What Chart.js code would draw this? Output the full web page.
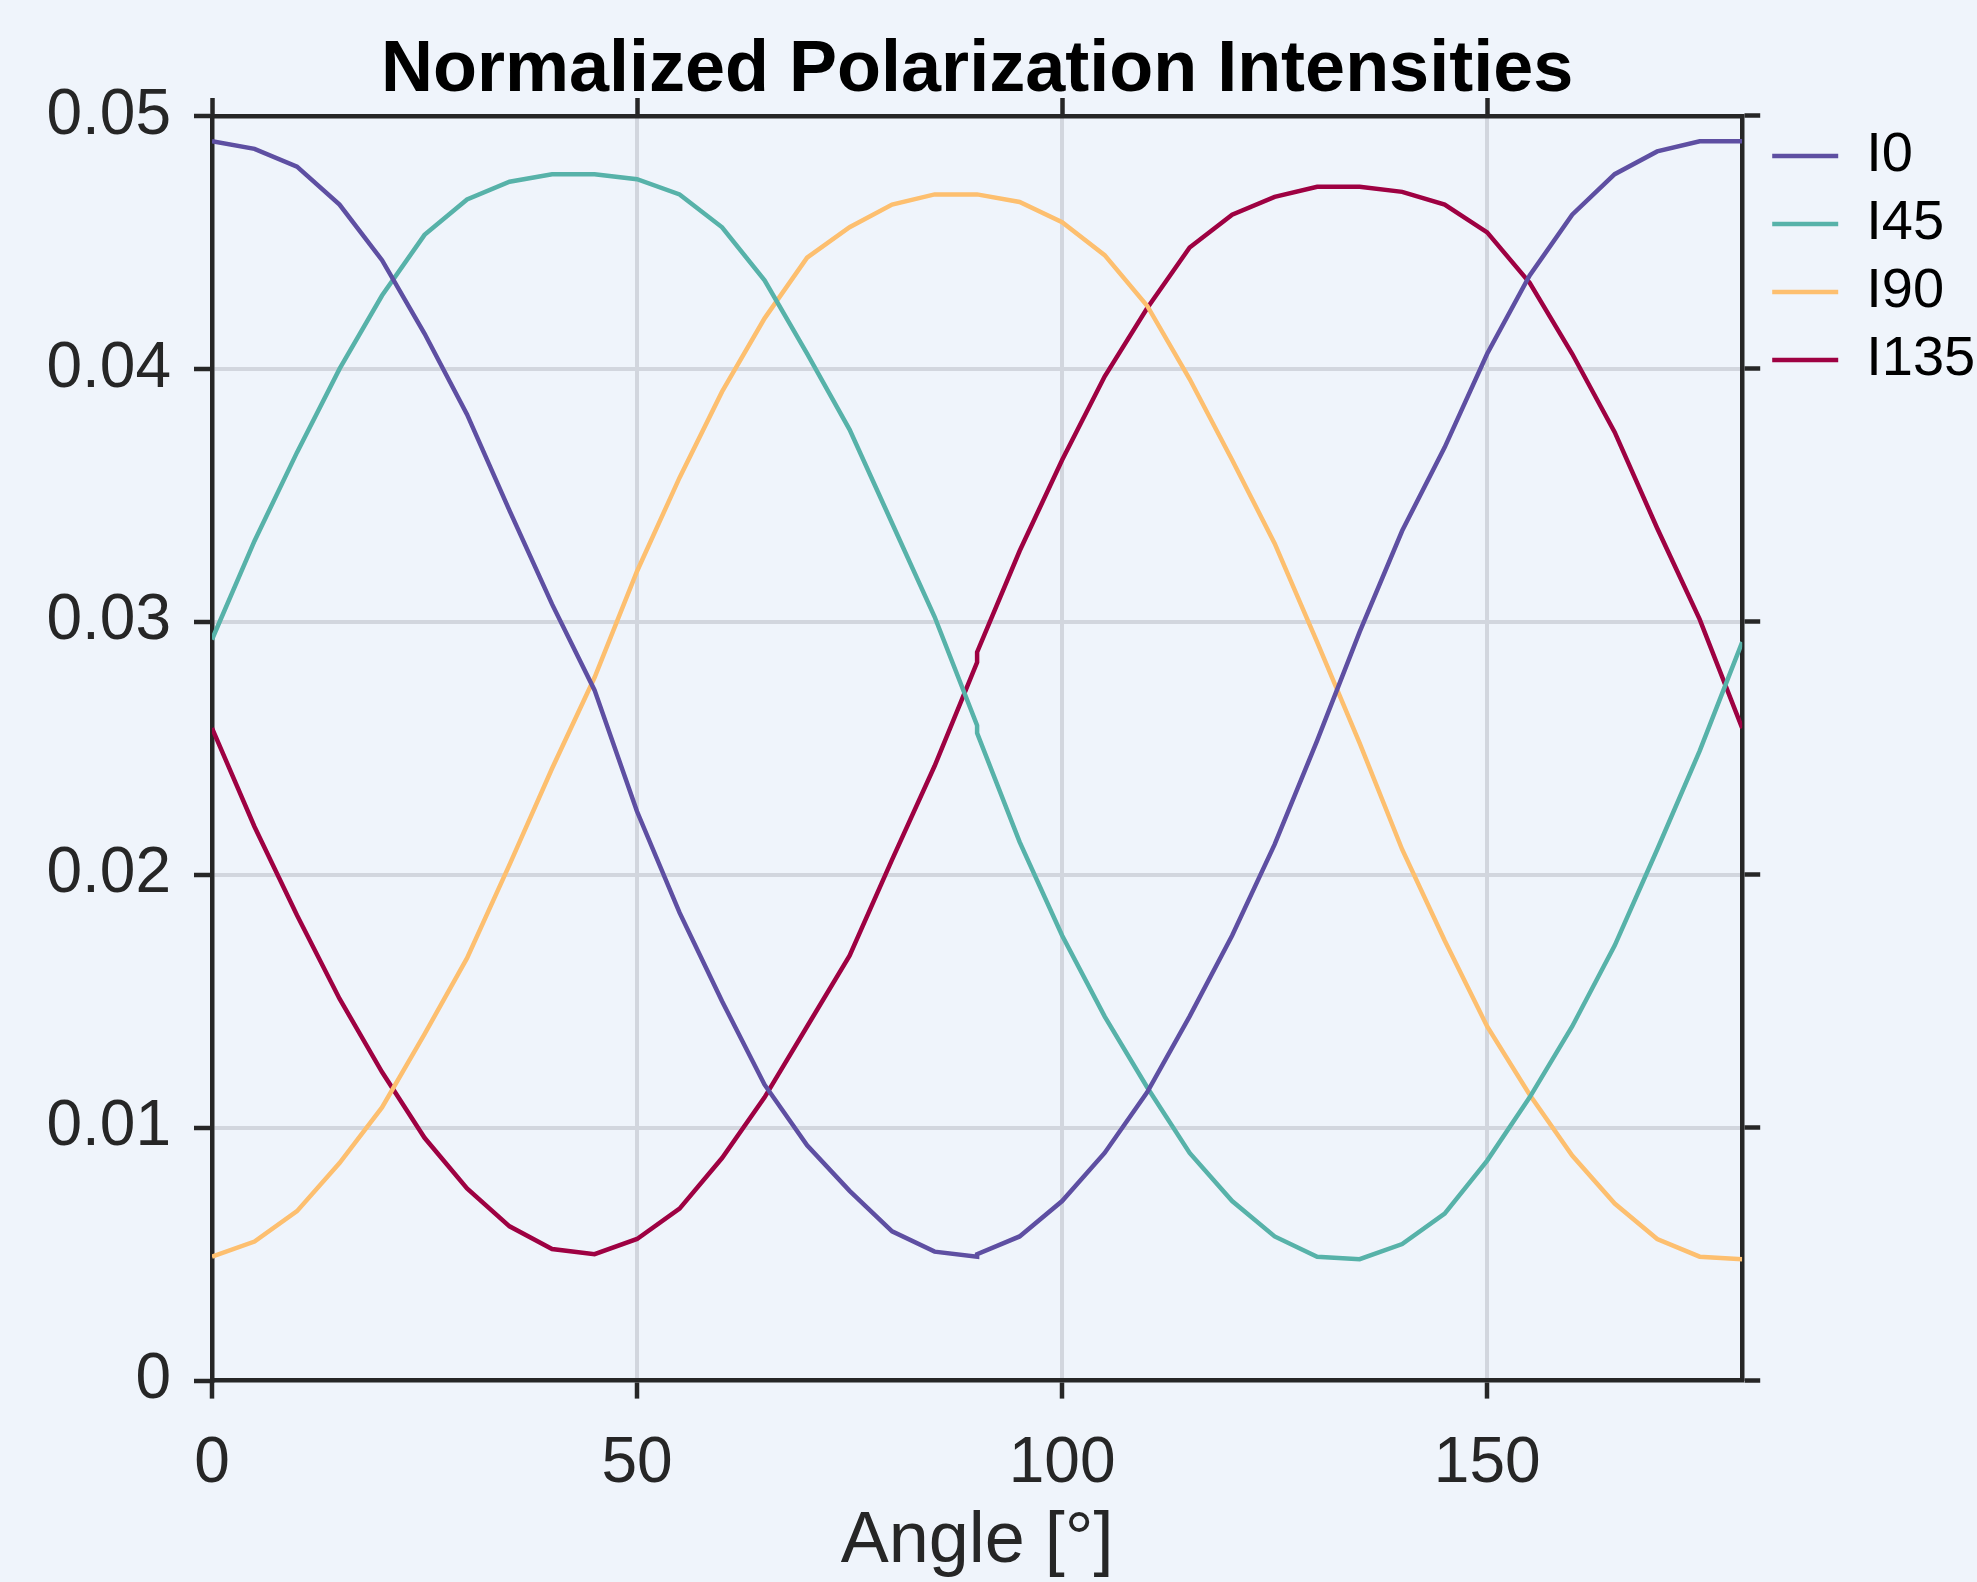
<!DOCTYPE html>
<html>
<head>
<meta charset="utf-8">
<script src="https://cdn.jsdelivr.net/npm/chart.js@4.4.1/dist/chart.umd.min.js"></script>
<style>
html,body{margin:0;padding:0;background:#eff4fb;}
canvas{display:block;background:#eff4fb;}
</style>
</head>
<body>
<canvas id="c" width="1977" height="1582"></canvas>
<script>
// ---- data ----
const angles = [0,5,10,15,20,25,30,35,40,45,50,55,60,65,70,75,80,85,90,
                90,95,100,105,110,115,120,125,130,135,140,145,150,155,160,165,170,175,180];
const I0 = [0.0490,0.0487,0.0480,0.0465,0.0443,0.0414,0.0382,0.0344,0.0307,0.0273,0.0225,0.0185,0.0150,0.0117,0.0093,0.0075,0.0059,0.0051,0.0049,
            0.0050,0.0057,0.0071,0.0090,0.0114,0.0144,0.0176,0.0212,0.0253,0.0296,0.0336,0.0369,0.0406,0.0437,0.0461,0.0477,0.0486,0.0490,0.0490];
const I45 = [0.0293,0.0332,0.0367,0.0400,0.0429,0.0453,0.0467,0.0474,0.0477,0.0477,0.0475,0.0469,0.0456,0.0435,0.0406,0.0376,0.0339,0.0302,0.0259,
             0.0256,0.0213,0.0176,0.0144,0.0116,0.0090,0.0071,0.0057,0.0049,0.0048,0.0054,0.0066,0.0087,0.0112,0.0140,0.0172,0.0210,0.0249,0.0292];
const I90 = [0.0049,0.0055,0.0067,0.0086,0.0108,0.0137,0.0167,0.0204,0.0242,0.0278,0.0320,0.0357,0.0391,0.0420,0.0444,0.0456,0.0465,0.0469,0.0469,
             0.0469,0.0466,0.0458,0.0445,0.0425,0.0396,0.0364,0.0331,0.0292,0.0252,0.0210,0.0174,0.0140,0.0113,0.0089,0.0070,0.0056,0.0049,0.0048];
const I135 = [0.0258,0.0219,0.0184,0.0151,0.0122,0.0096,0.0076,0.0061,0.0052,0.0050,0.0056,0.0068,0.0088,0.0112,0.0140,0.0168,0.0206,0.0243,0.0284,
              0.0288,0.0328,0.0364,0.0397,0.0424,0.0448,0.0461,0.0468,0.0472,0.0472,0.0470,0.0465,0.0454,0.0434,0.0406,0.0375,0.0337,0.0301,0.0258];
const seriesNames = ['I0','I45','I90','I135'];
const seriesValues = [I0, I45, I90, I135];
const seriesColors = ['#5e4fa2','#57b2a9','#fdbf6f','#9e0142'];
const xTickValues = [0,50,100,150];
const yTickValues = [0,0.01,0.02,0.03,0.04,0.05];
const titleText = 'Normalized Polarization Intensities';
const xTitleText = 'Angle [°]';

// ---- styling ----
const FONT = "'Liberation Sans', Arial, Helvetica, sans-serif";
const INK = '#262626';
const GRID = '#d2d6de';
const SPINE_W = 4.5;
const LINE_W = 4.5;
Chart.defaults.font.family = FONT;

const datasets = seriesNames.map((name, i) => ({
  label: name,
  data: angles.map((a, k) => ({x: a, y: seriesValues[i][k]})),
  borderColor: seriesColors[i],
  backgroundColor: seriesColors[i],
  borderWidth: LINE_W,
  pointRadius: 0,
  pointHoverRadius: 0,
  tension: 0,
  fill: false
}));

function gridColorX(ctx) {
  const v = ctx.tick ? ctx.tick.value : null;
  return (v === 0 || v === 180) ? 'rgba(0,0,0,0)' : GRID;
}
function gridColorY(ctx) {
  const v = ctx.tick ? ctx.tick.value : null;
  return (v === 0 || v === 0.05) ? 'rgba(0,0,0,0)' : GRID;
}
const setXTicks = s => { s.ticks = xTickValues.map(v => ({value: v})); };
const setYTicks = s => { s.ticks = yTickValues.map(v => ({value: v})); };

new Chart(document.getElementById('c'), {
  type: 'line',
  data: { datasets },
  options: {
    responsive: false,
    animation: false,
    devicePixelRatio: 1,
    layout: { padding: { left: 0, right: -8.2, top: 0, bottom: 0 } },
    plugins: {
      tooltip: { enabled: false },
      title: {
        display: true,
        text: titleText,
        fullSize: false,
        color: '#000000',
        font: { size: 72, weight: 'bold', lineHeight: 1.2 },
        padding: { top: 27.8, bottom: 0 }
      },
      legend: {
        display: true,
        position: 'right',
        align: 'start',
        fullSize: false,
        labels: {
          boxWidth: 66,
          boxHeight: 4.5,
          padding: 12,
          color: '#000000',
          font: { size: 56 },
          generateLabels: chart => chart.data.datasets.map((d, i) => ({
            text: d.label,
            fillStyle: d.borderColor,
            strokeStyle: d.borderColor,
            lineWidth: 0,
            hidden: false,
            datasetIndex: i,
            fontColor: '#000000'
          }))
        }
      }
    },
    scales: {
      x: {
        type: 'linear',
        position: 'bottom',
        min: 0, max: 180,
        afterBuildTicks: setXTicks,
        afterFit: s => { s.height = 201.4; },
        grid: { color: gridColorX, lineWidth: 4, drawTicks: true, tickLength: 18, tickColor: INK, tickWidth: SPINE_W },
        border: { display: true, color: INK, width: SPINE_W },
        ticks: { color: INK, font: { size: 64 }, padding: 27, maxRotation: 0, callback: v => String(v) },
        title: { display: true, text: xTitleText, color: INK, font: { size: 72, lineHeight: 1.1 }, padding: { top: 0, bottom: 0 } }
      },
      x2: {
        type: 'linear',
        position: 'top',
        min: 0, max: 180,
        afterBuildTicks: setXTicks,
        afterFit: s => { s.height = 1.8; },
        grid: { drawOnChartArea: false, drawTicks: true, tickLength: 18, tickColor: INK, tickWidth: SPINE_W },
        border: { display: true, color: INK, width: SPINE_W },
        ticks: { display: false }
      },
      y: {
        type: 'linear',
        position: 'left',
        min: 0, max: 0.05,
        afterBuildTicks: setYTicks,
        afterFit: s => { s.width = 212; },
        grid: { color: gridColorY, lineWidth: 4, drawTicks: true, tickLength: 18, tickColor: INK, tickWidth: SPINE_W },
        border: { display: true, color: INK, width: SPINE_W },
        ticks: { color: INK, font: { size: 64 }, padding: 23, callback: v => String(Number(v.toFixed(2))) }
      },
      y2: {
        type: 'linear',
        position: 'right',
        min: 0, max: 0.05,
        afterBuildTicks: setYTicks,
        afterFit: s => { s.width = 18; },
        grid: { drawOnChartArea: false, drawTicks: true, tickLength: 18, tickColor: INK, tickWidth: SPINE_W },
        border: { display: true, color: INK, width: SPINE_W },
        ticks: { display: false }
      }
    }
  }
});
</script>
</body>
</html>
